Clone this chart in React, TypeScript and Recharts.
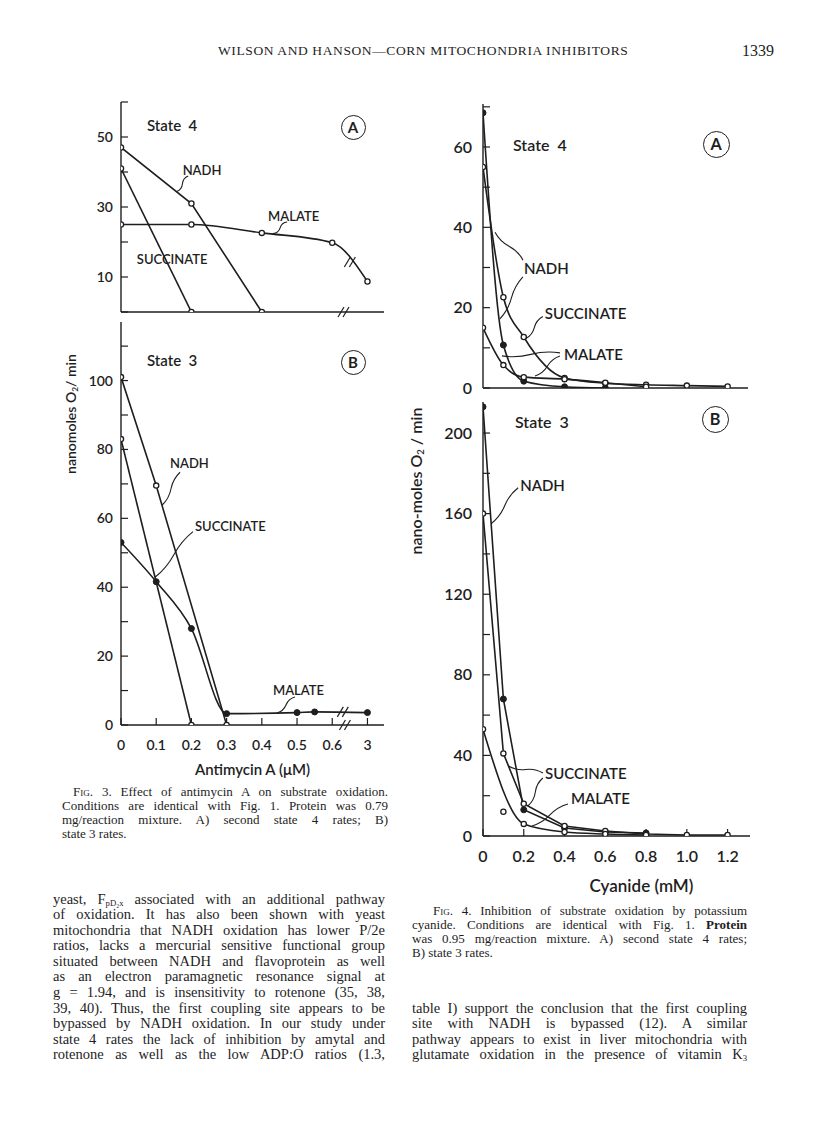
import { Label, Line, LineChart, ReferenceDot, XAxis, YAxis } from "recharts";
import type { ReactNode } from "react";

const INK = "#1e1e1e";
const SANS = "Lato, 'Open Sans', 'DejaVu Sans', sans-serif";
const SERIF = "'Liberation Serif', 'Times New Roman', serif";

type Pt = { x: number; y: number };

// Fig. 3 - antimycin A (uM). 3 uM sits behind an axis break, one step after 0.6
const antimycinTicks = [0, 0.1, 0.2, 0.3, 0.4, 0.5, 0.6, 3];

const fig3aNadh: Pt[] = [{ x: 0, y: 47 }, { x: 0.2, y: 31 }, { x: 0.4, y: 0 }];
const fig3aSuccinate: Pt[] = [{ x: 0, y: 41 }, { x: 0.2, y: 0 }];
const fig3aMalate: Pt[] = [
  { x: 0, y: 25 }, { x: 0.2, y: 25 }, { x: 0.4, y: 22.6 }, { x: 0.6, y: 19.8 }, { x: 3, y: 8.7 },
];

const fig3bNadh: Pt[] = [{ x: 0, y: 101 }, { x: 0.1, y: 69.5 }, { x: 0.3, y: 0 }];
const fig3bSuccinate: Pt[] = [{ x: 0, y: 83 }, { x: 0.2, y: 0 }];
const fig3bMalate: Pt[] = [
  { x: 0, y: 53 }, { x: 0.1, y: 41.6 }, { x: 0.2, y: 28 }, { x: 0.3, y: 3.3 },
  { x: 0.5, y: 3.6 }, { x: 0.55, y: 3.8 }, { x: 3, y: 3.6 },
];

const fig3aYTicks = [0, 10, 20, 30, 40, 50, 60];
const fig3aYLabels = [10, 30, 50];
const fig3bYTicks = [0, 10, 20, 30, 40, 50, 60, 70, 80, 90, 100, 110];
const fig3bYLabels = [0, 20, 40, 60, 80, 100];

// Fig. 4 - cyanide (mM)
const cyanideTicks = [0, 0.2, 0.4, 0.6, 0.8, 1.0, 1.2];

const fig4aNadh: Pt[] = [
  { x: 0, y: 68.5 }, { x: 0.1, y: 10.7 }, { x: 0.2, y: 1.7 }, { x: 0.4, y: 0.3 }, { x: 0.6, y: 0 },
];
const fig4aSuccinate: Pt[] = [
  { x: 0, y: 55 }, { x: 0.1, y: 22.6 }, { x: 0.2, y: 12.7 }, { x: 0.4, y: 2.5 },
  { x: 0.6, y: 1.2 }, { x: 0.8, y: 0.8 }, { x: 1.0, y: 0.6 }, { x: 1.2, y: 0.4 },
];
const fig4aMalate: Pt[] = [
  { x: 0, y: 15 }, { x: 0.1, y: 5.7 }, { x: 0.2, y: 2.7 }, { x: 0.4, y: 2.2 },
  { x: 0.6, y: 1.3 }, { x: 0.8, y: 0.3 },
];

const fig4bNadh: Pt[] = [
  { x: 0, y: 213 }, { x: 0.1, y: 68 }, { x: 0.2, y: 13 }, { x: 0.4, y: 4 }, { x: 0.6, y: 2 }, { x: 0.8, y: 1.5 },
];
const fig4bSuccinate: Pt[] = [
  { x: 0, y: 160 }, { x: 0.1, y: 41 }, { x: 0.2, y: 16 }, { x: 0.4, y: 5 },
  { x: 0.6, y: 2.5 }, { x: 0.8, y: 1 }, { x: 1.0, y: 0.5 }, { x: 1.2, y: 0.5 },
];
const fig4bMalate: Pt[] = [
  { x: 0, y: 53 }, { x: 0.2, y: 6 }, { x: 0.4, y: 2 }, { x: 0.6, y: 1 }, { x: 0.8, y: 0.5 },
];
const fig4bMalateStray: Pt[] = [{ x: 0.1, y: 12 }];

const fig4aYTicks = [0, 10, 20, 30, 40, 50, 60, 70];
const fig4aYLabels = [0, 20, 40, 60];
const fig4bYTicks = [0, 20, 40, 60, 80, 100, 120, 140, 160, 180, 200];
const fig4bYLabels = [0, 40, 80, 120, 160, 200];

const antimycinPos = (c: number) => (c > 1 ? 0.7 : c);
const onAntimycinAxis = (pts: Pt[]) => pts.map((p) => ({ x: antimycinPos(p.x), y: p.y }));

type Series = { data: Pt[]; filled?: boolean; curve: "linear" | "monotone"; noLine?: boolean };
// leader from a point on a curve (data coords) out to a label, offsets in px
type Note = { x: number; y: number; ex: number; ey: number; text?: string; tx?: number; ty?: number };

const openDot = { r: 2.6, fill: "#fff", stroke: INK, strokeWidth: 1.3 };
const filledDot = { r: 3, fill: INK, stroke: INK, strokeWidth: 1 };

function noteShape(n: Note, size: number) {
  return (props: any) => {
    const { cx, cy } = props;
    const x1 = cx + n.ex;
    const y1 = cy + n.ey;
    const len = Math.hypot(n.ex, n.ey) || 1;
    const px = (-n.ey / len) * 3;
    const py = (n.ex / len) * 3;
    const d = `M${cx},${cy} Q${cx + n.ex * 0.25 + px},${cy + n.ey * 0.25 + py} ${(cx + x1) / 2},${(cy + y1) / 2} T${x1},${y1}`;
    return (
      <g>
        {len > 1 && <path d={d} fill="none" stroke={INK} strokeWidth={1.1} />}
        {n.text && (
          <text
            x={cx + (n.tx ?? 0)}
            y={cy + (n.ty ?? 0)}
            dominantBaseline="central"
            fontFamily={SANS}
            fontWeight={600}
            fontSize={size}
            fill={INK}
          >
            {n.text}
          </text>
        )}
      </g>
    );
  };
}

const breakShape = (props: any) => {
  const { cx, cy } = props;
  return (
    <g stroke={INK} strokeWidth={1.2}>
      {[-2.5, 2.5].map((o) => (
        <line key={o} x1={cx + o - 3} y1={cy + 5} x2={cx + o + 3} y2={cy - 5} />
      ))}
    </g>
  );
};

interface PanelProps {
  left: number;
  top: number;
  plotW: number;
  plotH: number;
  axisW: number;
  xMax: number;
  yMax: number;
  xTicks: number[];
  yTicks: number[];
  yLabels: number[];
  xFormat?: (v: number) => string;
  title?: string;
  titleDx?: number;
  titleOffset?: number;
  topAxis?: boolean;
  series: Series[];
  notes: Note[];
  breaks?: Pt[];
  font: number;
  yTickMargin: number;
}

function Panel(p: PanelProps) {
  const hb = p.xFormat ? 66 : 12;
  const w = p.axisW + p.plotW + 12;
  const h = 4 + p.plotH + hb;
  const tickStyle = { fontSize: p.font, fill: INK, fontFamily: SANS, fontWeight: 600 };
  const axisLine = { stroke: INK, strokeWidth: 1.4 };
  const tickLine = { stroke: INK, strokeWidth: 1.2 };
  return (
    <div style={{ position: "absolute", left: p.left - p.axisW, top: p.top - 4 }}>
      <LineChart width={w} height={h} margin={{ top: 4, right: 12, bottom: 0, left: 0 }}>
        <XAxis
          xAxisId="b"
          type="number"
          dataKey="x"
          domain={[0, p.xMax]}
          ticks={p.xTicks}
          interval={0}
          height={hb}
          allowDataOverflow
          axisLine={axisLine}
          tickLine={tickLine}
          tickSize={-7}
          tickMargin={22}
          tick={p.xFormat ? tickStyle : false}
          tickFormatter={p.xFormat}
        >
          {p.title && (
            <Label
              value={p.title}
              position="insideBottom"
              offset={p.titleOffset ?? 14}
              dx={p.titleDx ?? 0}
              style={{ fontSize: p.font + 1, fontFamily: SANS, fontWeight: 600, fill: INK }}
            />
          )}
        </XAxis>
        {p.topAxis && (
          <XAxis
            xAxisId="t"
            orientation="top"
            type="number"
            dataKey="x"
            domain={[0, p.xMax]}
            ticks={p.xTicks}
            interval={0}
            height={0}
            allowDataOverflow
            axisLine={axisLine}
            tickLine={tickLine}
            tickSize={-7}
            tick={false}
          />
        )}
        <YAxis
          yAxisId="l"
          type="number"
          domain={[0, p.yMax]}
          ticks={p.yTicks}
          interval={0}
          width={p.axisW}
          allowDataOverflow
          axisLine={axisLine}
          tickLine={tickLine}
          tickSize={-7}
          tickMargin={p.yTickMargin}
          tick={tickStyle}
          tickFormatter={(v: number) => (p.yLabels.includes(v) ? String(v) : "")}
        />
        <YAxis
          yAxisId="r"
          orientation="right"
          type="number"
          domain={[0, p.yMax]}
          ticks={p.yTicks}
          interval={0}
          width={0}
          allowDataOverflow
          axisLine={axisLine}
          tickLine={tickLine}
          tickSize={-7}
          tick={false}
        />
        {p.series.map((s, i) => (
          <Line
            key={i}
            xAxisId="b"
            yAxisId="l"
            data={s.data}
            dataKey="y"
            type={s.curve}
            stroke={s.noLine ? "none" : INK}
            strokeWidth={1.6}
            dot={s.filled ? filledDot : openDot}
            activeDot={false}
            isAnimationActive={false}
          />
        ))}
        {(p.breaks ?? []).map((b, i) => (
          <ReferenceDot key={"b" + i} xAxisId="b" yAxisId="l" x={b.x} y={b.y} ifOverflow="visible" shape={breakShape} />
        ))}
        {p.notes.map((n, i) => (
          <ReferenceDot
            key={"n" + i}
            xAxisId="b"
            yAxisId="l"
            x={n.x}
            y={n.y}
            ifOverflow="visible"
            shape={noteShape(n, p.font - 1)}
          />
        ))}
      </LineChart>
    </div>
  );
}

function StateLabel({ left, cy, text, size }: { left: number; cy: number; text: string; size: number }) {
  return (
    <div
      style={{
        position: "absolute", left, top: cy - 10, height: 20, lineHeight: "20px",
        fontFamily: SANS, fontWeight: 600, fontSize: size, whiteSpace: "pre",
      }}
    >
      {text}
    </div>
  );
}

function Circled({ cx, cy, d, letter }: { cx: number; cy: number; d: number; letter: string }) {
  return (
    <div
      style={{
        position: "absolute", left: cx - d / 2, top: cy - d / 2, width: d, height: d, boxSizing: "border-box",
        border: `1.6px solid ${INK}`, borderRadius: "50%", display: "flex",
        alignItems: "center", justifyContent: "center", fontFamily: SANS, fontWeight: 700, fontSize: d * 0.6,
        lineHeight: 1,
      }}
    >
      {letter}
    </div>
  );
}

function YTitle({ cx, cy, size, children }: { cx: number; cy: number; size: number; children: ReactNode }) {
  return (
    <div
      style={{
        position: "absolute", left: cx, top: cy, transform: "translate(-50%, -50%) rotate(-90deg)",
        whiteSpace: "nowrap", fontFamily: SANS, fontWeight: 600, fontSize: size,
      }}
    >
      {children}
    </div>
  );
}

function TextBlock(props: {
  left: number; top: number; width: number; lh: number; size: number;
  lines: ReactNode[]; indent?: number; justifyLast?: boolean;
}) {
  const { left, top, width, lh, size, lines, indent = 0, justifyLast = false } = props;
  return (
    <div style={{ position: "absolute", left, top, width, fontFamily: SERIF, fontSize: size, lineHeight: `${lh}px` }}>
      {lines.map((ln, i) => {
        const plain = i === lines.length - 1 && !justifyLast;
        return (
          <div
            key={i}
            style={{
              height: lh, whiteSpace: "nowrap", paddingLeft: i === 0 ? indent : 0, overflow: "visible",
              textAlign: plain ? "left" : "justify", textAlignLast: plain ? "left" : "justify",
            }}
          >
            {ln}
          </div>
        );
      })}
    </div>
  );
}

const sc = (t: string) => <span style={{ fontVariant: "small-caps" }}>{t}</span>;
const sub = (t: string) => (
  <span style={{ fontSize: "0.6em", lineHeight: 0, position: "relative", top: "0.25em" }}>{t}</span>
);

const fig3Caption: ReactNode[] = [
  <>{sc("Fig.")} 3. Effect of antimycin A on substrate oxidation.</>,
  "Conditions are identical with Fig. 1. Protein was 0.79",
  "mg/reaction mixture. A) second state 4 rates; B)",
  "state 3 rates.",
];
const fig4Caption: ReactNode[] = [
  <>{sc("Fig.")} 4. Inhibition of substrate oxidation by potassium</>,
  <>cyanide. Conditions are identical with Fig. 1. <b>Protein</b></>,
  "was 0.95 mg/reaction mixture. A) second state 4 rates;",
  "B) state 3 rates.",
];
const leftBody: ReactNode[] = [
  <>yeast, F{sub("pD₂x")} associated with an additional pathway</>,
  "of oxidation. It has also been shown with yeast",
  "mitochondria that NADH oxidation has lower P/2e",
  "ratios, lacks a mercurial sensitive functional group",
  "situated between NADH and flavoprotein as well",
  "as an electron paramagnetic resonance signal at",
  "g = 1.94, and is insensitivity to rotenone (35, 38,",
  "39, 40). Thus, the first coupling site appears to be",
  "bypassed by NADH oxidation. In our study under",
  "state 4 rates the lack of inhibition by amytal and",
  "rotenone as well as the low ADP:O ratios (1.3,",
];
const rightBody: ReactNode[] = [
  "table I) support the conclusion that the first coupling",
  "site with NADH is bypassed (12). A similar",
  "pathway appears to exist in liver mitochondria with",
  <>glutamate oxidation in the presence of vitamin K{sub("3")}</>,
];

export default function App() {
  const antiTicks = antimycinTicks.map(antimycinPos);
  const antiFormat = (v: number) => String(antimycinTicks[antiTicks.indexOf(v)] ?? v);
  const cyFormat = (v: number) => (v === 0 ? "0" : v.toFixed(1));

  return (
    <div
      style={{
        position: "absolute", left: 0, top: 0, width: 816, height: 1130,
        background: "#fff", color: INK, overflow: "hidden",
      }}
    >
      <div style={{ position: "absolute", left: 218, top: 43, fontFamily: SERIF, fontSize: 13.5, letterSpacing: 0.6, whiteSpace: "nowrap" }}>
        WILSON AND HANSON—CORN MITOCHONDRIA INHIBITORS
      </div>
      <div style={{ position: "absolute", left: 742, top: 42, fontFamily: SERIF, fontSize: 16 }}>1339</div>

      <Panel
        left={121} top={102} plotW={263} plotH={210} axisW={45} xMax={0.747} yMax={60}
        xTicks={antiTicks} yTicks={fig3aYTicks} yLabels={fig3aYLabels} topAxis font={14} yTickMargin={15}
        series={[
          { data: onAntimycinAxis(fig3aNadh), curve: "linear" },
          { data: onAntimycinAxis(fig3aSuccinate), curve: "linear" },
          { data: onAntimycinAxis(fig3aMalate), curve: "monotone" },
        ]}
        breaks={[{ x: 0.632, y: 0 }, { x: 0.65, y: 14.3 }]}
        notes={[
          { x: 0.158, y: 34.4, ex: 11.6, ey: -15.6, text: "NADH", tx: 6, ty: -21.6 },
          { x: 0.432, y: 22.4, ex: 14, ey: -11.6, text: "MALATE", tx: -5, ty: -17.6 },
          { x: 0.045, y: 15.1, ex: 0, ey: 0, text: "SUCCINATE", tx: 0, ty: 0 },
        ]}
      />
      <Panel
        left={121} top={322} plotW={263} plotH={403} axisW={45} xMax={0.747} yMax={117}
        xTicks={antiTicks} yTicks={fig3bYTicks} yLabels={fig3bYLabels} xFormat={antiFormat}
        title="Antimycin A (μM)" titleOffset={16} font={14} yTickMargin={15}
        series={[
          { data: onAntimycinAxis(fig3bNadh), curve: "linear" },
          { data: onAntimycinAxis(fig3bSuccinate), curve: "linear" },
          { data: onAntimycinAxis(fig3bMalate), curve: "monotone", filled: true },
        ]}
        breaks={[{ x: 0.636, y: 0 }, { x: 0.63, y: 3.8 }]}
        notes={[
          { x: 0.1165, y: 63.8, ex: 18, ey: -33, text: "NADH", tx: 8, ty: -42 },
          { x: 0.0966, y: 42.9, ex: 38, ey: -45.6, text: "SUCCINATE", tx: 40, ty: -51 },
          { x: 0.443, y: 3.5, ex: 18, ey: -16, text: "MALATE", tx: -4, ty: -23 },
        ]}
      />
      <Panel
        left={483} top={104} plotW={265} plotH={284} axisW={55} xMax={1.3} yMax={70.7}
        xTicks={cyanideTicks} yTicks={fig4aYTicks} yLabels={fig4aYLabels} topAxis font={16} yTickMargin={18}
        series={[
          { data: fig4aNadh, curve: "monotone", filled: true },
          { data: fig4aSuccinate, curve: "monotone" },
          { data: fig4aMalate, curve: "monotone" },
        ]}
        notes={[
          { x: 0.059, y: 38.8, ex: 28, ey: 28, text: "NADH", tx: 29, ty: 36 },
          { x: 0.083, y: 17.2, ex: 23, ey: -42 },
          { x: 0.21, y: 12.3, ex: 17, ey: -22, text: "SUCCINATE", tx: 19, ty: -26 },
          { x: 0.093, y: 8, ex: 58, ey: -3, text: "MALATE", tx: 62, ty: -2 },
          { x: 0.255, y: 3, ex: 25, ey: -20 },
        ]}
      />
      <Panel
        left={483} top={402} plotW={267} plotH={434} axisW={55} xMax={1.31} yMax={215.4}
        xTicks={cyanideTicks} yTicks={fig4bYTicks} yLabels={fig4bYLabels} xFormat={cyFormat}
        title="Cyanide (mM)" titleDx={25} titleOffset={10} font={16} yTickMargin={18}
        series={[
          { data: fig4bNadh, curve: "linear", filled: true },
          { data: fig4bSuccinate, curve: "linear" },
          { data: fig4bMalate, curve: "monotone" },
          { data: fig4bMalateStray, curve: "linear", noLine: true },
        ]}
        notes={[
          { x: 0.04, y: 155, ex: 27, ey: -36, text: "NADH", tx: 29, ty: -39 },
          { x: 0.125, y: 34.75, ex: 34.5, ey: 7, text: "SUCCINATE", tx: 36.5, ty: 7 },
          { x: 0.22, y: 14.9, ex: 15, ey: -28 },
          { x: 0.24, y: 5, ex: 36, ey: -22, text: "MALATE", tx: 39, ty: -28 },
        ]}
      />

      <StateLabel left={147} cy={125} text="State  4" size={15} />
      <Circled cx={353} cy={127} d={25} letter="A" />
      <StateLabel left={147} cy={360} text="State  3" size={15} />
      <Circled cx={353} cy={362} d={25} letter="B" />
      <StateLabel left={513} cy={145} text="State  4" size={16} />
      <Circled cx={716} cy={144} d={27} letter="A" />
      <StateLabel left={515} cy={422} text="State  3" size={16} />
      <Circled cx={715} cy={419} d={27} letter="B" />

      <YTitle cx={70} cy={414} size={14}>
        nanomoles O{sub("2")}/ min
      </YTitle>
      <YTitle cx={415} cy={481} size={16}>
        nano-moles O{sub("2")} / min
      </YTitle>

      <TextBlock left={62} top={785} width={326} lh={13.9} size={13} indent={11} lines={fig3Caption} />
      <TextBlock left={412} top={904} width={335} lh={14} size={13} indent={21} lines={fig4Caption} />
      <TextBlock left={53} top={891.5} width={332} lh={15.6} size={14.5} lines={leftBody} justifyLast />
      <TextBlock left={412} top={1000.5} width={335} lh={15.6} size={14.5} lines={rightBody} justifyLast />
    </div>
  );
}
